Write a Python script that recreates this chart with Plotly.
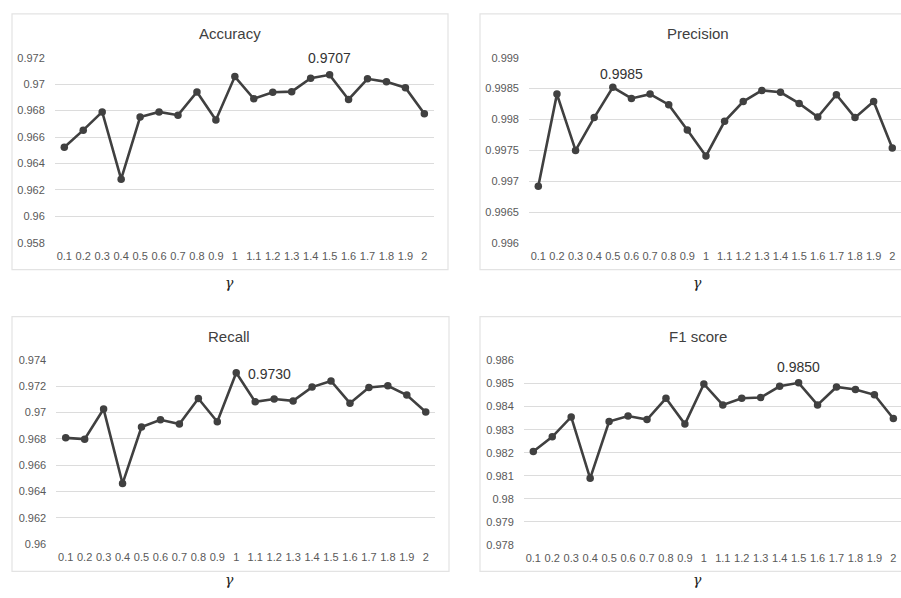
import plotly.graph_objects as go

# Gamma values on the category axis
gamma = ["0.1", "0.2", "0.3", "0.4", "0.5", "0.6", "0.7", "0.8", "0.9", "1",
         "1.1", "1.2", "1.3", "1.4", "1.5", "1.6", "1.7", "1.8", "1.9", "2"]

accuracy = [0.96523, 0.96652, 0.96790, 0.96281, 0.96751, 0.96790, 0.96765,
            0.96941, 0.96728, 0.97057, 0.96889, 0.96938, 0.96943, 0.97044,
            0.97070, 0.96884, 0.97040, 0.97017, 0.96973, 0.96775]

precision = [0.99692, 0.99841, 0.99750, 0.99803, 0.99852, 0.99834, 0.99841,
             0.99824, 0.99783, 0.99741, 0.99797, 0.99829, 0.99847, 0.99844,
             0.99826, 0.99804, 0.99840, 0.99803, 0.99829, 0.99754]

recall = [0.96808, 0.96798, 0.97027, 0.96460, 0.96890, 0.96945, 0.96913,
          0.97107, 0.96930, 0.97303, 0.97082, 0.97104, 0.97089, 0.97194,
          0.97241, 0.97072, 0.97191, 0.97204, 0.97134, 0.97005]

f1_score = [0.98205, 0.98269, 0.98355, 0.98089, 0.98335, 0.98359, 0.98344,
            0.98436, 0.98324, 0.98498, 0.98407, 0.98436, 0.98439, 0.98488,
            0.98503, 0.98407, 0.98485, 0.98474, 0.98451, 0.98348]

acc_ticks = ["0.958", "0.96", "0.962", "0.964", "0.966", "0.968", "0.97", "0.972"]
prec_ticks = ["0.996", "0.9965", "0.997", "0.9975", "0.998", "0.9985", "0.999"]
rec_ticks = ["0.96", "0.962", "0.964", "0.966", "0.968", "0.97", "0.972", "0.974"]
f1_ticks = ["0.978", "0.979", "0.98", "0.981", "0.982", "0.983", "0.984", "0.985", "0.986"]

W, H = 901, 598
LINE = "#404040"
GRID = "#dcdcdc"
BORDER = "#e3e3e3"
TICK_FONT = dict(family="Liberation Sans, Arial, sans-serif", size=11, color="#595959")

# Layout of each panel in pixels: frame box, first category centre, spacing,
# plot top / bottom, title and axis-label positions, peak label placement.
panels = [
    dict(title="Accuracy", values=accuracy, ticks=acc_ticks, peak=14,
         c0=64.3, step=18.95, top=52.7, bottom=241.7,
         box=(12, 8, 448, 269), title_xy=(230, 28), gamma_xy=(229, 283),
         lab_dx=0, lab_dy=-17, lab_anchor="center"),
    dict(title="Precision", values=precision, ticks=prec_ticks, peak=4,
         c0=538.3, step=18.63, top=52.7, bottom=242.0,
         box=(480, 8, 915, 269), title_xy=(698, 28), gamma_xy=(697, 283),
         lab_dx=9, lab_dy=-13, lab_anchor="center"),
    dict(title="Recall", values=recall, ticks=rec_ticks, peak=9,
         c0=65.7, step=18.95, top=361.3, bottom=549.0,
         box=(12, 317, 449, 577), title_xy=(229, 337), gamma_xy=(229, 586),
         lab_dx=10, lab_dy=1, lab_anchor="left"),
    dict(title="F1 score", values=f1_score, ticks=f1_ticks, peak=14,
         c0=533.3, step=18.95, top=361.7, bottom=550.0,
         box=(480, 317, 915, 577), title_xy=(698, 337), gamma_xy=(697, 586),
         lab_dx=0, lab_dy=-16, lab_anchor="center"),
]

fig = go.Figure()
shapes = []
annotations = []

for i, p in enumerate(panels, start=1):
    sfx = "" if i == 1 else str(i)
    left = p["c0"] - p["step"] / 2
    right = min(p["c0"] + 19.5 * p["step"], W)
    xmax = (right - p["c0"]) / p["step"]
    tick_vals = [float(t) for t in p["ticks"]]

    fig.add_trace(go.Scatter(
        x=list(range(len(gamma))), y=p["values"], mode="lines+markers",
        line=dict(color=LINE, width=2.6),
        marker=dict(color=LINE, size=7.5),
        xaxis="x" + sfx, yaxis="y" + sfx, showlegend=False,
        hoverinfo="skip",
    ))

    fig.update_layout(**{
        "xaxis" + sfx: dict(
            domain=[left / W, right / W], range=[-0.5, xmax],
            tickmode="array", tickvals=list(range(len(gamma))), ticktext=gamma,
            showgrid=False, zeroline=False, showline=False, ticks="",
            tickfont=TICK_FONT, ticklabelstandoff=5, anchor="y" + sfx,
            fixedrange=True,
        ),
        "yaxis" + sfx: dict(
            domain=[1 - p["bottom"] / H, 1 - p["top"] / H],
            range=[tick_vals[0], tick_vals[-1]],
            tickmode="array", tickvals=tick_vals, ticktext=p["ticks"],
            showgrid=True, gridcolor=GRID, gridwidth=1.2,
            zeroline=False, showline=False, ticks="",
            tickfont=TICK_FONT, ticklabelstandoff=9, anchor="x" + sfx,
            fixedrange=True,
        ),
    })

    x0, y0, x1, y1 = p["box"]
    shapes.append(dict(type="rect", xref="paper", yref="paper",
                       x0=x0 / W, x1=x1 / W, y0=1 - y1 / H, y1=1 - y0 / H,
                       line=dict(color=BORDER, width=1.2), layer="below"))

    tx, ty = p["title_xy"]
    annotations.append(dict(text=p["title"], xref="paper", yref="paper",
                            x=tx / W, y=1 - ty / H, showarrow=False,
                            xanchor="center", yanchor="middle",
                            font=dict(family="Liberation Sans, Arial, sans-serif",
                                      size=15, color="#404040")))

    gx, gy = p["gamma_xy"]
    annotations.append(dict(text="<i>γ</i>", xref="paper", yref="paper",
                            x=gx / W, y=1 - gy / H, showarrow=False,
                            xanchor="center", yanchor="middle",
                            font=dict(family="DejaVu Serif, serif",
                                      size=14, color="#222222")))

    k = p["peak"]
    annotations.append(dict(text=f"{p['values'][k]:.4f}",
                            xref="x" + sfx, yref="y" + sfx,
                            x=k, y=p["values"][k], showarrow=False,
                            xanchor=p["lab_anchor"], yanchor="middle",
                            xshift=p["lab_dx"], yshift=-p["lab_dy"],
                            font=dict(family="Liberation Sans, Arial, sans-serif",
                                      size=14, color="#333333")))

fig.update_layout(
    width=W, height=H, margin=dict(l=0, r=0, t=0, b=0),
    paper_bgcolor="white", plot_bgcolor="white",
    shapes=shapes, annotations=annotations,
)

fig.write_html("out.html")
